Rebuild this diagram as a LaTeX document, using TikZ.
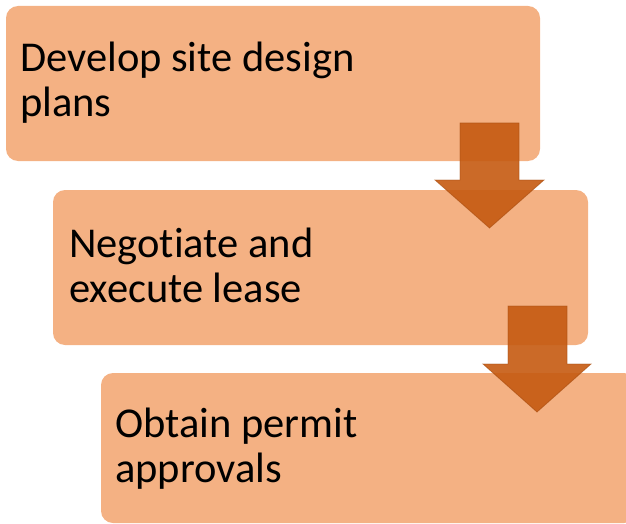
\documentclass[tikz,border=0pt]{standalone}
\usepackage{fontspec}
\setmainfont{Carlito}[Ligatures={NoCommon}]
\definecolor{boxfill}{RGB}{244,177,131}
\definecolor{arrowfill}{RGB}{197,90,17}
\tikzset{
  stepbox/.style={draw=none, fill=boxfill, rounded corners=12pt},
  steptext/.style={anchor=base west, align=left, inner sep=0pt,
    font=\fontsize{42.5pt}{45pt}\selectfont, text=black},
  downarrow/.style={fill=arrowfill, fill opacity=0.9, draw=arrowfill!85!black, draw opacity=0.6, line width=0.8pt, line join=miter}
}
\begin{document}
\begin{tikzpicture}[x=1pt,y=-1pt]
\useasboundingbox (0,0) rectangle (626,524);
\begin{scope}
\clip (0,0) rectangle (626,524);
% boxes
\path[stepbox] (6,6) rectangle (540,161);
\coordinate (b1) at (6,6);
\path[stepbox] (53,190) rectangle (588,345);
\coordinate (b2) at (53,190);
\path[stepbox] (101,373) rectangle (636,523);
\coordinate (b3) at (101,373);
% texts (anchor on the baseline of the last line)
\node[steptext] (t1) at (20,117) {Develop site design\\plans};
\node[steptext] (t2) at (69,302) {Negotiate and\\execute lease};
\node[steptext] (t3) at (115,482) {Obtain permit\\approvals};
% arrows
\path[downarrow] (460,123) -- (519,123) -- (519,180) -- (544,180) -- (489.5,228) -- (435,180) -- (460,180) -- cycle;
\path[downarrow] (508,306) -- (567,306) -- (567,364) -- (591,364) -- (537,412) -- (483,364) -- (508,364) -- cycle;
\end{scope}
\end{tikzpicture}
\end{document}
